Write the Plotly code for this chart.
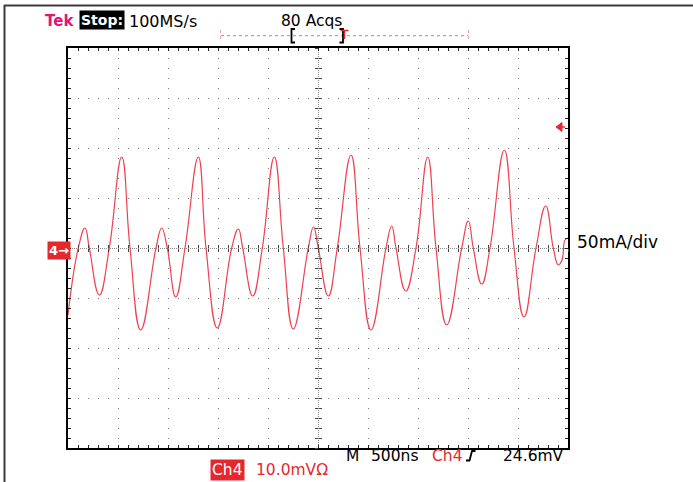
import plotly.graph_objects as go

# Waveform: time (ns, 500 ns/div) and current (mA, 50 mA/div)
time_ns = [0, 103, 170, 213, 313, 413, 537, 620, 727, 880, 937, 993, 1077, 1170,
           1303, 1380, 1493, 1637, 1703, 1747, 1847, 1943, 2063, 2153, 2253, 2403,
           2455, 2503, 2603, 2693, 2830, 2920, 3030, 3180, 3237, 3280, 3377, 3480,
           3597, 3680, 3787, 3937, 4003, 4053, 4137, 4220, 4363, 4460, 4560, 4680,
           4777, 4853, 4903, 4940, 4970, 5000]
current_mA = [-67, 0, 20, 0, -47, 0, 91, 0, -82, 0, 20, 0, -49, 0,
              91, 0, -80, 0, 19, 0, -48, 0, 91, 0, -81, 0,
              21, 0, -48, 0, 93, 0, -82, 0, 22, 0, -43, 0,
              91, 0, -77, 0, 27, 0, -36, 0, 98, 0, -69, 0,
              42, 0, -17, -12, 8, 10]

X_RANGE = [0, 5000]
Y_RANGE = [-200, 200]

W, H = 693, 482
L, R, T, B = 68, 568, 48, 448


def px(x):
    return (x - L) / (R - L)


def py(y):
    return (B - y) / (B - T)


fig = go.Figure()
fig.add_trace(go.Scatter(
    x=time_ns, y=current_mA, mode="lines",
    line=dict(color="#ef4150", width=1.2, shape="spline", smoothing=1.3),
    hoverinfo="skip", showlegend=False))

# empty helper traces so that the overlay (tick/centre-line) axes get drawn
for xa, ya in [("x2", "y"), ("x3", "y"), ("x4", "y"), ("x5", "y"), ("x6", "y"),
               ("x", "y2"), ("x", "y3"), ("x", "y4"), ("x", "y5"), ("x", "y6")]:
    fig.add_trace(go.Scatter(x=[], y=[], xaxis=xa, yaxis=ya, mode="lines",
                             hoverinfo="skip", showlegend=False))

base = dict(showticklabels=False, zeroline=False, fixedrange=True)
grid = dict(showgrid=True, gridcolor="#7a7a7a", gridwidth=1, griddash="1px,9px")

fig.update_layout(
    width=W, height=H,
    margin=dict(l=L, r=W - R, t=T, b=H - B),
    paper_bgcolor="white", plot_bgcolor="white",
    font=dict(family="DejaVu Sans", color="black"),
    xaxis=dict(range=X_RANGE, dtick=500, tick0=0, ticks="", showline=True,
               linecolor="black", linewidth=2, mirror=True, **grid, **base),
    yaxis=dict(range=Y_RANGE, dtick=50, tick0=0, ticks="", showline=True,
               linecolor="black", linewidth=2, mirror=True, **grid, **base),
    # border ticks
    xaxis2=dict(overlaying="x", anchor="y", side="bottom", range=X_RANGE, dtick=100,
                ticks="inside", ticklen=3, tickcolor="#222", showgrid=False, **base),
    xaxis3=dict(overlaying="x", anchor="y", side="top", range=X_RANGE, dtick=100,
                ticks="inside", ticklen=3, tickcolor="#222", showgrid=False, **base),
    yaxis2=dict(overlaying="y", anchor="x", side="left", range=Y_RANGE, dtick=10,
                ticks="inside", ticklen=3, tickcolor="#222", showgrid=False, **base),
    yaxis3=dict(overlaying="y", anchor="x", side="right", range=Y_RANGE, dtick=10,
                ticks="inside", ticklen=3, tickcolor="#222", showgrid=False, **base),
    # centre cross ticks
    xaxis4=dict(overlaying="x", anchor="free", position=0.5, range=X_RANGE, dtick=100,
                ticks="inside", ticklen=3, tickcolor="#444", showgrid=False, **base),
    xaxis5=dict(overlaying="x", anchor="free", position=0.5, range=X_RANGE, dtick=100,
                ticks="outside", ticklen=3, tickcolor="#444", showgrid=False, **base),
    yaxis4=dict(overlaying="y", anchor="free", position=0.5, range=Y_RANGE, dtick=10,
                ticks="inside", ticklen=3, tickcolor="#444", showgrid=False, **base),
    yaxis5=dict(overlaying="y", anchor="free", position=0.5, range=Y_RANGE, dtick=10,
                ticks="outside", ticklen=3, tickcolor="#444", showgrid=False, **base),
    # dense centre lines
    xaxis6=dict(overlaying="x", anchor="y", range=X_RANGE, tickmode="array", tickvals=[2500],
                ticks="", showgrid=True, gridcolor="#8a8a8a", griddash="1px,1px", **base),
    yaxis6=dict(overlaying="y", anchor="x", range=Y_RANGE, tickmode="array", tickvals=[0],
                ticks="", showgrid=True, gridcolor="#8a8a8a", griddash="1px,1px", **base),
)

RED = "#e5282e"
MAG = "#e0157a"


def ann(text, x, y, size=15.5, color="black", xanchor="left", bg=None, pad=0):
    d = dict(text=text, x=px(x), y=py(y), xref="paper", yref="paper",
             xanchor=xanchor, yanchor="middle", showarrow=False,
             font=dict(size=size, color=color, family="DejaVu Sans"), borderpad=pad)
    if bg:
        d["bgcolor"] = bg
    fig.add_annotation(**d)


ann("<b>Tek</b>", 44, 21, size=15, color=MAG)
ann("<b>Stop:</b>", 79, 20.5, size=14, color="white", bg="black", pad=1)
ann("100MS/s", 128, 21, size=16)
ann("80 Acqs", 280, 21, size=15.5)
ann("50mA/div", 576, 242.5, size=17)
ann("M", 345, 455.5)
ann("500ns", 370, 455.5)
ann("Ch4", 431, 455.5, color=RED)
ann("24.6mV", 502, 455.5)
ann("Ch4", 210, 469.5, color="white", bg=RED, pad=1)
ann("10.0mVΩ", 255, 469.5, color=RED)
ann("<b>4→</b>", 47, 250.5, size=13, color="white", bg=RED, pad=1)


def line(x0, y0, x1, y1, color, width=1, dash="solid"):
    fig.add_shape(type="line", xref="paper", yref="paper",
                  x0=px(x0), y0=py(y0), x1=px(x1), y1=py(y1),
                  line=dict(color=color, width=width, dash=dash))


def path(pts, color, width=1.5, fill=None):
    d = "M " + " L ".join(f"{px(a):.5f},{py(b):.5f}" for a, b in pts)
    if fill:
        d += " Z"
    fig.add_shape(type="path", xref="paper", yref="paper", path=d,
                  line=dict(color=color, width=width),
                  fillcolor=fill if fill else "rgba(0,0,0,0)")


# outer frame
line(4.5, 5, 4.5, 482, "#3a3a3a", 2)
line(4, 5.5, 693, 5.5, "#3a3a3a", 2)

# record bar
line(221, 35.7, 468, 35.7, "#f07070", 1, "dot")
line(220.5, 30, 220.5, 42, "#f4a0a0", 1, "dot")
line(468.5, 30, 468.5, 42, "#f4a0a0", 1, "dot")
path([(295, 29), (291.5, 29), (291.5, 42.5), (295, 42.5)], "black", 1.8)
path([(339.5, 29), (343, 29), (343, 42.5), (339.5, 42.5)], "black", 1.8)
path([(340.5, 30.5), (348.5, 30.5)], RED, 1.5)
path([(344.5, 30.5), (344.5, 39)], RED, 1.5)

# trigger level marker
path([(556, 127), (562, 122.5), (562, 131.5)], RED, 1, fill=RED)
line(561, 127, 565, 127, RED, 1.5)

# trigger slope glyph
path([(466, 460.5), (469.5, 460.5), (472, 451), (475.5, 451)], "black", 1.8)

fig.write_html("out.html",
               config={"displayModeBar": False, "staticPlot": True},
               post_script="document.body.style.margin='0px';"
                           "document.body.style.overflow='hidden';")
